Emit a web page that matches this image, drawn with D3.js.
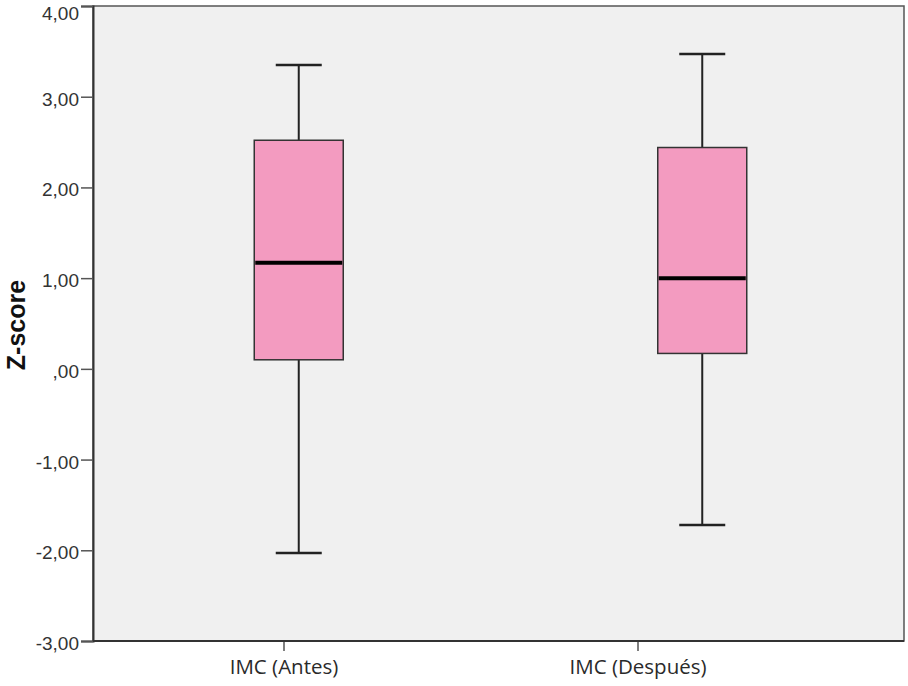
<!DOCTYPE html>
<html>
<head>
<meta charset="utf-8">
<script src="https://cdn.jsdelivr.net/npm/d3@7"></script>
<style>
  body { margin: 0; background: #fff; }
  svg { display: block; }
</style>
</head>
<body>
<svg id="chart" width="908" height="686"></svg>
<script>
// data
var categories = ['IMC (Antes)', 'IMC (Después)']
var whiskerLow = [-2.03, -1.72]
var q1 = [0.10, 0.17]
var medians = [1.17, 1.00]
var q3 = [2.52, 2.44]
var whiskerHigh = [3.35, 3.47]
var yTicks = [4, 3, 2, 1, 0, -1, -2, -3]

var boxes = categories.map(function (c, i) {
  return { name: c, lo: whiskerLow[i], q1: q1[i], med: medians[i], q3: q3[i], hi: whiskerHigh[i] }
})

var svg = d3.select('#chart')
var plotLeft = 93, plotRight = 904, plotTop = 6, plotBottom = 641

var y = d3.scaleLinear().domain([-3, 4]).range([plotBottom, plotTop])
var x = d3.scaleBand().domain(categories).range([plotLeft + 4, plotRight])
// the category labels sit a bit left of the boxes in the original
var xLabel = d3.scaleBand().domain(categories).range([107, 815])

function fmt (d) {
  var s = d.toFixed(2).replace('.', ',')
  return s.replace(/^0,/, ',')
}

svg.append('rect')
  .attr('x', plotLeft).attr('y', plotTop)
  .attr('width', plotRight - plotLeft).attr('height', plotBottom - plotTop)
  .attr('fill', '#f0f0f0')
  .attr('stroke', '#555')
  .attr('stroke-width', 1.5)

var boxW = 89, capW = 46

var g = svg.selectAll('g.box')
  .data(boxes)
  .join('g')
  .attr('class', 'box')
  .attr('transform', function (d) { return 'translate(' + (x(d.name) + x.bandwidth() / 2) + ',0)' })

g.append('line')
  .attr('x1', 0).attr('x2', 0)
  .attr('y1', function (d) { return y(d.hi) })
  .attr('y2', function (d) { return y(d.lo) })
  .attr('stroke', '#222').attr('stroke-width', 2)

g.selectAll('line.cap')
  .data(function (d) { return [d.hi, d.lo] })
  .join('line')
  .attr('class', 'cap')
  .attr('x1', -capW / 2).attr('x2', capW / 2)
  .attr('y1', function (v) { return y(v) })
  .attr('y2', function (v) { return y(v) })
  .attr('stroke', '#222').attr('stroke-width', 2.5)

g.append('rect')
  .attr('x', -boxW / 2).attr('width', boxW)
  .attr('y', function (d) { return y(d.q3) })
  .attr('height', function (d) { return y(d.q1) - y(d.q3) })
  .attr('fill', '#f39bc0')
  .attr('stroke', '#333').attr('stroke-width', 1.5)

g.append('line')
  .attr('x1', -boxW / 2 + 1).attr('x2', boxW / 2 - 1)
  .attr('y1', function (d) { return y(d.med) })
  .attr('y2', function (d) { return y(d.med) })
  .attr('stroke', '#000').attr('stroke-width', 4)

// y axis
var yAxis = svg.append('g')
  .attr('transform', 'translate(' + plotLeft + ',0)')
  .call(d3.axisLeft(y).tickValues(yTicks).tickFormat(fmt).tickSize(12).tickPadding(2))
yAxis.select('.domain').attr('stroke', '#333').attr('stroke-width', 2)
yAxis.selectAll('.tick line').attr('stroke', '#555').attr('stroke-width', 1.5)
yAxis.selectAll('.tick text')
  .attr('font-family', 'Liberation Sans, Arial, sans-serif')
  .attr('font-size', 19)
  .attr('fill', '#333')
  .attr('dy', function (d) { return d === 4 ? '0.72em' : '0.45em' })

// x axis
var xAxis = svg.append('g')
  .attr('transform', 'translate(0,' + plotBottom + ')')
  .call(d3.axisBottom(xLabel).tickSize(10).tickPadding(8))
xAxis.select('.domain').remove()
svg.append('line')
  .attr('x1', plotLeft).attr('x2', plotRight)
  .attr('y1', plotBottom).attr('y2', plotBottom)
  .attr('stroke', '#333').attr('stroke-width', 2)
xAxis.selectAll('.tick line').attr('stroke', '#555').attr('stroke-width', 1.5)
xAxis.selectAll('.tick text')
  .attr('font-family', 'Open Sans, Noto Sans, sans-serif')
  .attr('font-size', 20.5)
  .attr('fill', '#2a2a2a')

svg.append('text')
  .attr('transform', 'translate(25,' + 325 + ') rotate(-90)')
  .attr('text-anchor', 'middle')
  .attr('font-family', 'Liberation Sans, Arial, sans-serif')
  .attr('font-weight', 'bold')
  .attr('font-size', 25)
  .attr('fill', '#111')
  .text('Z-score')
</script>
</body>
</html>
